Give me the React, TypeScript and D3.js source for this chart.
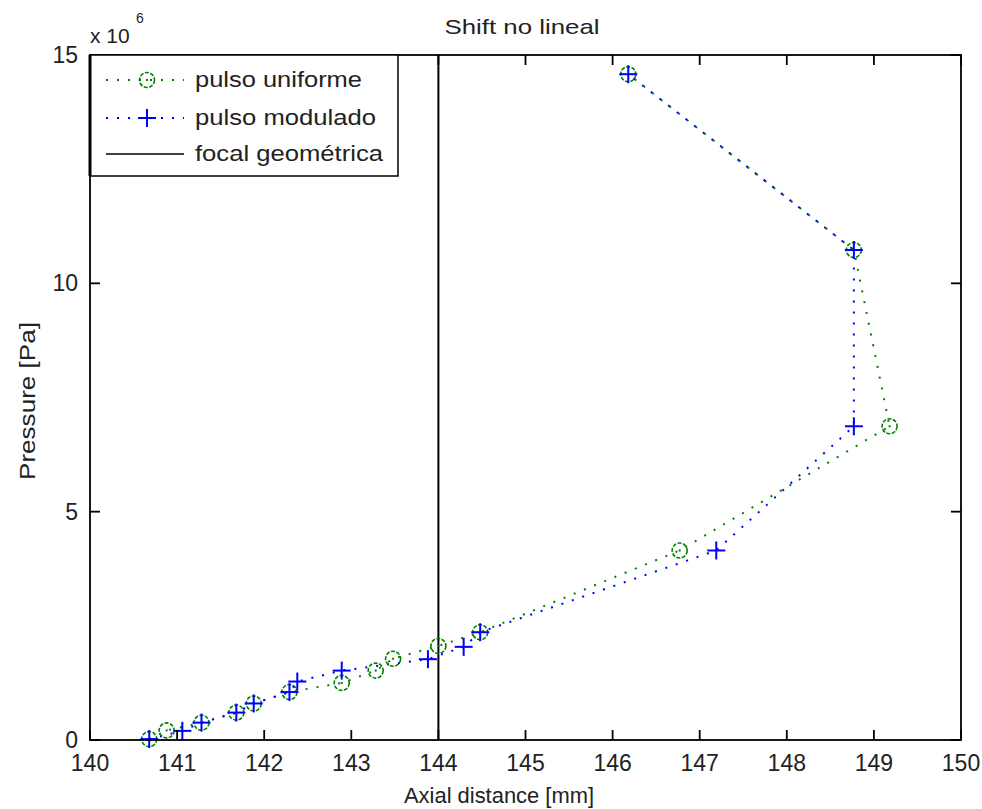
import React from 'react'
import * as d3 from 'd3'

// axial distance [mm] and pressure [x 10^6 Pa]
const uniformeX = [140.68, 140.88, 141.28, 141.68, 141.88, 142.29, 142.89, 143.28, 143.48, 144.0, 144.48, 146.77, 149.18, 148.77, 146.18]
const uniformeP = [0.02, 0.21, 0.38, 0.6, 0.8, 1.05, 1.25, 1.52, 1.78, 2.06, 2.36, 4.15, 6.87, 10.73, 14.58]
const moduladoX = [140.68, 141.06, 141.28, 141.68, 141.88, 142.29, 142.38, 142.89, 143.88, 144.29, 144.48, 147.19, 148.77, 148.77, 146.18]
const moduladoP = [0.02, 0.2, 0.38, 0.6, 0.8, 1.05, 1.28, 1.52, 1.77, 2.04, 2.36, 4.15, 6.87, 10.73, 14.58]
const focalX = 144
const xTicks = [140, 141, 142, 143, 144, 145, 146, 147, 148, 149, 150]
const yTicks = [0, 5, 10, 15]
const legendLabels = ['pulso uniforme', 'pulso modulado', 'focal geométrica']

const W = 982
const H = 809
const left = 90, right = 961, top = 55, bottom = 740
const font = '"Liberation Sans", Arial, sans-serif'
const green = '#008000'
const blue = '#0000ff'
const dots = '2 9'

const App = () => {
  const x = d3.scaleLinear().domain([140, 150]).range([left, right])
  const y = d3.scaleLinear().domain([0, 15]).range([bottom, top])

  const line = d3.line<[number, number]>()
    .x(d => x(d[0]))
    .y(d => y(d[1]))

  const uni: [number, number][] = uniformeX.map((v, i) => [v, uniformeP[i]])
  const mod: [number, number][] = moduladoX.map((v, i) => [v, moduladoP[i]])

  const circle = (cx: number, cy: number, key: any) => (
    <g key={key}>
      <circle cx={cx} cy={cy} r={7.5} fill="none" stroke={green} strokeWidth={1.6} strokeDasharray="4 1.5" />
      <rect x={cx - 1} y={cy - 1} width={2} height={2} fill={green} />
    </g>
  )
  const plus = (cx: number, cy: number, key: any) => (
    <g key={key} stroke={blue} strokeWidth={2}>
      <line x1={cx - 9} x2={cx + 9} y1={cy} y2={cy} />
      <line x1={cx} x2={cx} y1={cy - 9} y2={cy + 9} />
    </g>
  )

  const lg = { x0: 106, x1: 184, xm: 147, tx: 195, rows: [80, 118, 154] }
  const lgWidths = [167, 181, 188]

  return (
    <svg width={W} height={H} style={{ position: 'absolute', left: 0, top: 0, background: '#fff' }}
      fontFamily={font}>
      <rect x={0} y={0} width={W} height={H} fill="#fff" />

      {/* focal line */}
      <line x1={x(focalX)} x2={x(focalX)} y1={top} y2={bottom} stroke="#000" strokeWidth={2} />

      {/* series */}
      <path d={line(uni) || ''} fill="none" stroke={green} strokeWidth={2} strokeDasharray={dots} />
      <path d={line(mod) || ''} fill="none" stroke={blue} strokeWidth={2} strokeDasharray={dots} />
      {uni.map((d, i) => circle(x(d[0]), y(d[1]), 'c' + i))}
      {mod.map((d, i) => plus(x(d[0]), y(d[1]), 'p' + i))}

      {/* axes box + ticks */}
      <rect x={left} y={top} width={right - left} height={bottom - top} fill="none" stroke="#000" strokeWidth={1.8} />
      {xTicks.map(t => (
        <g key={'x' + t} stroke="#000" strokeWidth={1.8}>
          <line x1={x(t)} x2={x(t)} y1={bottom} y2={bottom - 10} />
          <line x1={x(t)} x2={x(t)} y1={top} y2={top + 10} />
        </g>
      ))}
      {yTicks.map(t => (
        <g key={'y' + t} stroke="#000" strokeWidth={1.8}>
          <line x1={left} x2={left + 10} y1={y(t)} y2={y(t)} />
          <line x1={right} x2={right - 10} y1={y(t)} y2={y(t)} />
        </g>
      ))}
      {xTicks.map(t => (
        <text key={'xl' + t} x={x(t)} y={771} fontSize={23} textAnchor="middle" fill="#222">{t}</text>
      ))}
      {yTicks.map(t => (
        <text key={'yl' + t} x={78} y={y(t) + 8} fontSize={23} textAnchor="end" fill="#222">{t}</text>
      ))}
      <text x={90} y={43} fontSize={21} fill="#222">x 10</text>
      <text x={136} y={23} fontSize={14} fill="#222">6</text>

      <text x={522} y={34} fontSize={21} textAnchor="middle" fill="#222" textLength={155} lengthAdjust="spacingAndGlyphs">Shift no lineal</text>
      <text x={499} y={803} fontSize={22} textAnchor="middle" fill="#222" textLength={190} lengthAdjust="spacingAndGlyphs">Axial distance [mm]</text>
      <text transform={`translate(35,401) rotate(-90)`} fontSize={22} textAnchor="middle" fill="#222" textLength={158} lengthAdjust="spacingAndGlyphs">Pressure [Pa]</text>

      {/* legend */}
      <rect x={left} y={top} width={398 - left} height={176 - top} fill="#fff" stroke="#000" strokeWidth={1.5} />
      <line x1={left} x2={left} y1={top} y2={176} stroke="#000" strokeWidth={3} />
      <line x1={lg.x0} x2={lg.x1} y1={lg.rows[0]} y2={lg.rows[0]} stroke={green} strokeWidth={2} strokeDasharray={dots} />
      {circle(lg.xm, lg.rows[0], 'lgc')}
      <line x1={lg.x0} x2={lg.x1} y1={lg.rows[1]} y2={lg.rows[1]} stroke={blue} strokeWidth={2} strokeDasharray={dots} />
      {plus(lg.xm, lg.rows[1], 'lgp')}
      <line x1={lg.x0} x2={lg.x1} y1={lg.rows[2]} y2={lg.rows[2]} stroke="#000" strokeWidth={1.5} />
      {legendLabels.map((l, i) => (
        <text key={l} x={lg.tx} y={lg.rows[i] + 7} fontSize={22} fill="#222" textLength={lgWidths[i]} lengthAdjust="spacingAndGlyphs">{l}</text>
      ))}
    </svg>
  )
}

export default App
